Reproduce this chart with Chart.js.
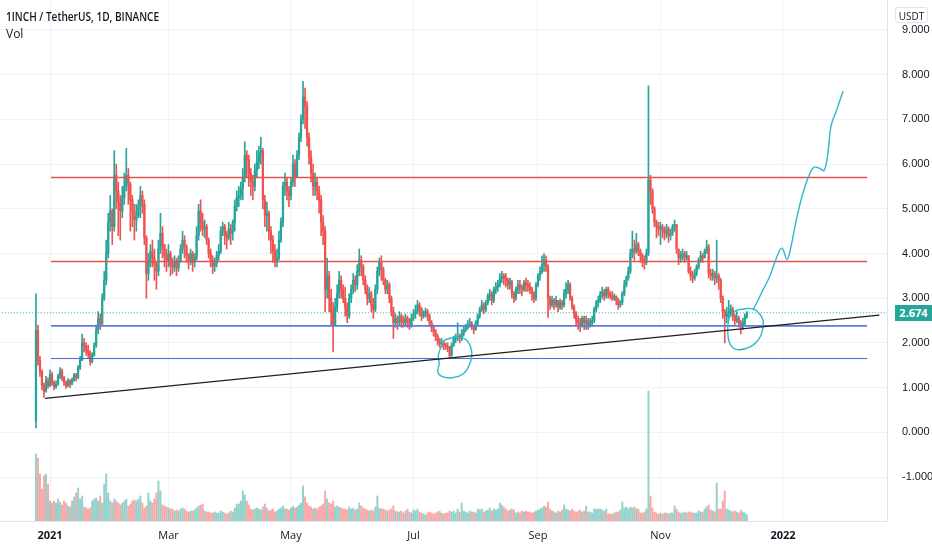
<!DOCTYPE html>
<html>
<head>
<meta charset="utf-8">
<script src="https://cdn.jsdelivr.net/npm/chart.js@4.4.0/dist/chart.umd.min.js"></script>
<style>
  body { margin: 0; background: #fff; }
  #wrap { position: relative; width: 932px; height: 550px; }
  #title, #vol, #usdt, #last { position: absolute; color: #131722; font-family: "Open Sans", "Liberation Sans", sans-serif; white-space: nowrap; }
  #title { left: 6px; top: 8px; font-size: 12px; font-weight: 600; transform-origin: left top; }
  #vol { left: 6px; top: 25px; font-size: 12px; }
  #usdt { left: 895px; top: 7px; width: 33px; height: 16px; line-height: 16px; font-size: 10px; text-align: center; border: 1px solid #e0e3eb; border-radius: 3px; box-sizing: border-box; }
  #last { left: 895px; top: 305px; width: 37px; height: 16px; line-height: 16px; font-size: 11px; font-weight: 700; text-align: center; background: #26a69a; color: #fff; }
</style>
</head>
<body>
<div id="wrap">
  <canvas id="chart"></canvas>
  <div id="title">1INCH / TetherUS, 1D, BINANCE</div>
  <div id="vol">Vol</div>
  <div id="usdt">USDT</div>
  <div id="last">2.674</div>
</div>
<script>
// ================================
// DATOS (días contados desde el 1 ene 2021, primera vela 25 dic 2020)
// ================================
const firstDay = -7;
const firstOpen = 0.25;

const closes = [
  2.28,1.61,1.35,1.05,0.92,1.15,1.05,1.30,1.10,1.02,
  1.08,1.25,1.38,1.22,1.12,1.05,1.15,1.08,1.18,1.28,
  1.22,1.45,1.62,2.00,1.92,1.85,1.78,1.58,1.72,1.95,
  2.30,2.55,2.42,3.00,3.40,4.00,4.70,4.95,4.60,5.75,
  5.40,5.15,4.95,5.25,5.50,5.75,5.55,5.20,4.95,4.75,
  4.85,5.05,5.30,5.10,4.35,3.55,3.80,4.05,3.90,3.75,3.60,
  4.10,4.45,4.20,3.95,3.85,4.00,3.75,3.70,3.82,3.68,
  3.85,4.10,4.30,4.15,3.95,3.85,4.00,3.80,3.90,4.40,
  4.95,4.70,4.55,4.60,4.30,4.00,3.85,3.72,3.78,3.95,
  4.05,4.50,4.60,4.40,4.35,4.55,4.45,4.70,5.05,5.25,
  5.30,5.45,5.70,6.20,6.10,5.80,5.60,5.50,5.85,6.05,6.25,
  6.30,5.20,4.85,4.90,4.50,4.30,4.05,3.85,3.90,4.30,
  4.70,5.50,5.60,5.40,5.30,5.60,6.00,5.70,6.20,6.60,
  7.00,7.50,7.30,6.60,6.15,5.80,5.50,5.60,5.40,5.20,
  4.70,4.50,3.20,3.50,3.00,2.70,2.40,2.80,3.10,3.40,
  3.20,3.00,2.80,2.60,3.00,3.20,3.40,3.30,3.60,3.85,3.70,
  3.40,3.20,3.00,3.10,2.85,2.75,3.20,3.60,3.80,3.65,
  3.40,3.20,3.30,3.00,2.70,2.45,2.55,2.45,2.60,2.50,
  2.45,2.55,2.50,2.40,2.55,2.65,2.70,2.85,2.75,2.60,
  2.65,2.70,2.60,2.45,2.35,2.25,2.15,2.05,1.98,2.00,
  1.95,1.92,1.90,1.72,1.95,2.10,2.12,2.15,2.10,2.20,2.30,
  2.35,2.40,2.45,2.38,2.30,2.45,2.60,2.75,2.85,2.75,
  2.90,3.05,3.10,2.95,3.20,3.25,3.30,3.45,3.50,3.45,
  3.40,3.30,3.35,3.10,3.00,3.20,3.30,3.25,3.20,3.35,
  3.30,3.25,3.20,3.10,3.00,3.30,3.50,3.60,3.75,3.85,3.70,
  3.00,2.85,2.95,2.85,2.95,2.80,2.90,2.85,3.10,3.20,
  3.30,3.00,2.80,2.65,2.50,2.45,2.40,2.55,2.45,2.50,
  2.40,2.45,2.50,2.75,2.90,2.95,3.10,3.15,3.05,3.20,
  3.10,3.05,3.00,3.05,2.95,2.85,2.90,3.10,3.30,3.45,3.60,
  4.00,4.10,4.05,4.20,4.05,3.95,3.85,3.80,4.00,5.65,
  5.40,5.00,4.70,4.60,4.55,4.60,4.50,4.45,4.55,4.40,
  4.45,4.60,4.65,4.10,3.90,3.95,4.00,3.90,3.95,3.60,
  3.50,3.45,3.55,3.70,3.85,3.95,3.90,4.05,4.15,3.55,3.50,
  3.55,3.45,3.50,3.40,3.00,2.70,2.60,2.65,2.70,2.75,
  2.60,2.50,2.55,2.45,2.35,2.45,2.60,2.674
];

const highs = [
  3.10,2.40,1.70,1.40,1.10,1.25,1.22,1.40,1.35,1.15,
  1.15,1.30,1.45,1.42,1.25,1.15,1.20,1.18,1.22,1.32,
  1.32,1.50,1.70,2.20,2.10,2.00,1.95,1.82,1.78,2.00,
  2.40,2.70,2.65,3.10,3.60,4.30,4.90,5.30,5.00,6.30,
  6.00,5.60,5.30,5.50,5.80,6.35,5.90,5.60,5.30,5.10,
  5.10,5.20,5.50,5.40,5.20,4.40,4.00,4.20,4.30,4.10,3.80,
  4.30,4.90,4.60,4.20,4.10,4.20,4.05,3.90,3.95,3.90,
  3.95,4.20,4.50,4.40,4.20,4.00,4.10,4.05,4.00,4.60,
  5.10,5.20,4.90,4.75,4.65,4.35,4.10,3.95,3.90,4.05,
  4.20,4.60,4.70,4.65,4.50,4.70,4.65,4.75,5.20,5.40,
  5.50,5.60,5.90,6.50,6.30,6.20,5.90,5.75,6.00,6.30,6.40,
  6.60,6.35,5.30,5.15,4.95,4.60,4.40,4.20,4.10,4.50,
  4.80,5.60,5.80,5.70,5.50,5.70,6.20,6.10,6.30,6.70,
  7.10,7.85,7.70,7.40,6.70,6.30,6.00,5.80,5.70,5.50,
  5.30,4.85,4.60,3.90,3.60,3.20,2.90,3.00,3.30,3.60,
  3.50,3.30,3.25,2.90,3.10,3.30,3.55,3.50,3.75,4.10,3.95,
  3.75,3.50,3.30,3.25,3.15,3.00,3.30,3.70,3.90,3.95,
  3.70,3.45,3.40,3.35,3.05,2.80,2.65,2.60,2.70,2.65,
  2.60,2.65,2.60,2.55,2.65,2.75,2.85,2.95,2.90,2.80,
  2.72,2.78,2.75,2.65,2.50,2.40,2.30,2.20,2.10,2.10,
  2.05,2.00,2.00,1.92,2.00,2.15,2.20,2.45,2.20,2.30,2.35,
  2.42,2.50,2.55,2.48,2.40,2.50,2.65,2.80,2.95,2.90,
  2.95,3.10,3.20,3.15,3.25,3.35,3.40,3.55,3.60,3.55,
  3.55,3.45,3.45,3.40,3.15,3.25,3.40,3.40,3.30,3.40,
  3.45,3.40,3.35,3.25,3.15,3.35,3.55,3.70,3.95,4.00,3.95,
  3.75,3.05,3.05,3.00,3.05,2.95,2.98,2.95,3.20,3.35,
  3.40,3.35,3.05,2.85,2.70,2.60,2.55,2.60,2.60,2.60,
  2.55,2.55,2.60,2.80,2.95,3.05,3.15,3.25,3.20,3.25,
  3.25,3.15,3.15,3.10,3.05,3.00,2.95,3.15,3.40,3.50,3.70,
  4.10,4.50,4.30,4.45,4.25,4.10,4.00,3.95,4.10,7.75,
  5.75,5.45,5.05,4.75,4.70,4.70,4.65,4.60,4.65,4.60,
  4.55,4.65,4.75,4.65,4.10,4.05,4.10,4.05,4.05,3.95,
  3.70,3.60,3.65,3.75,3.90,4.05,4.00,4.10,4.30,4.20,3.65,
  3.65,3.60,4.30,3.55,3.45,3.05,2.75,2.80,2.95,2.85,
  2.80,2.65,2.70,2.60,2.50,2.55,2.65,2.70
];

const lows = [
  0.10,1.50,1.25,0.95,0.78,0.90,0.98,1.02,1.05,0.95,
  0.98,1.05,1.20,1.15,1.05,0.98,1.02,1.00,1.06,1.14,
  1.15,1.20,1.40,1.60,1.80,1.72,1.66,1.50,1.55,1.70,
  1.90,2.20,2.30,2.40,2.95,3.30,3.90,4.50,4.20,4.50,
  5.00,4.40,4.30,4.80,5.10,5.40,5.10,4.50,4.60,4.30,
  4.50,4.80,4.80,4.90,4.20,3.00,3.40,3.70,3.70,3.40,3.20,
  3.50,4.00,3.90,3.70,3.60,3.70,3.50,3.55,3.60,3.50,
  3.60,3.80,4.00,3.90,3.80,3.65,3.75,3.60,3.70,3.85,
  4.30,4.50,4.40,4.35,4.20,3.90,3.70,3.55,3.60,3.70,
  3.85,4.00,4.40,4.20,4.10,4.30,4.20,4.30,4.50,4.95,
  5.05,5.20,5.20,5.60,5.70,5.50,5.30,5.20,5.40,5.70,5.90,
  6.00,5.00,4.60,4.50,4.30,4.00,3.80,3.70,3.70,3.85,
  4.25,4.60,5.30,5.20,5.05,5.20,5.50,5.50,5.70,6.10,
  6.50,6.90,6.80,6.40,6.00,5.60,5.30,5.30,5.20,4.90,
  4.40,4.20,2.70,3.00,2.70,2.40,1.80,2.40,2.70,3.00,
  3.00,2.90,2.60,2.45,2.55,2.90,3.10,3.15,3.20,3.50,3.50,
  3.30,3.10,2.85,2.90,2.70,2.55,2.70,3.10,3.50,3.40,
  3.30,3.10,3.10,2.90,2.60,2.10,2.35,2.30,2.40,2.35,
  2.35,2.40,2.35,2.30,2.35,2.50,2.55,2.65,2.60,2.50,
  2.55,2.58,2.50,2.40,2.25,2.15,2.05,1.95,1.90,1.90,
  1.85,1.85,1.80,1.65,1.70,1.92,2.00,2.05,2.00,2.05,2.15,
  2.25,2.30,2.35,2.30,2.20,2.28,2.40,2.55,2.70,2.65,
  2.70,2.85,2.95,2.85,2.90,3.10,3.15,3.25,3.35,3.30,
  3.25,3.20,3.20,3.00,2.90,2.95,3.10,3.10,3.05,3.15,
  3.15,3.15,3.10,2.95,2.90,2.95,3.25,3.40,3.55,3.60,3.60,
  2.57,2.75,2.80,2.75,2.80,2.70,2.75,2.75,2.80,3.00,
  3.10,2.95,2.75,2.55,2.40,2.30,2.25,2.35,2.30,2.30,
  2.30,2.35,2.38,2.45,2.70,2.80,2.90,3.00,2.95,3.00,
  3.00,2.98,2.95,2.95,2.85,2.75,2.80,2.85,3.05,3.25,3.40,
  3.55,3.90,3.85,4.00,3.95,3.80,3.70,3.65,3.75,3.95,
  5.10,4.90,4.60,4.35,4.40,4.20,4.35,4.30,4.35,4.25,
  4.30,4.40,4.50,4.00,3.75,3.80,3.85,3.80,3.85,3.55,
  3.40,3.35,3.40,3.50,3.65,3.80,3.80,3.90,4.00,3.45,3.40,
  3.40,3.30,3.35,3.20,2.90,2.55,2.00,2.45,2.55,2.60,
  2.50,2.40,2.45,2.35,2.20,2.30,2.40,2.55
];

// volumen en unidades relativas
const volumes = [
  67,63,47,32,45,47,37,20,18,20,
  18,22,19,16,20,18,15,14,20,24,
  28,33,22,25,14,13,12,13,20,22,
  23,20,25,18,37,47,28,20,18,22,
  20,18,16,18,20,22,15,17,20,21,
  20,22,25,18,13,15,28,20,18,22,28,
  40,30,16,15,14,13,12,12,10,11,
  10,12,13,12,10,9,10,10,11,13,
  15,16,17,10,9,9,8,8,9,8,
  8,10,9,8,7,8,10,9,13,17,
  17,20,30,26,20,16,12,11,12,13,12,
  11,14,17,13,10,11,12,9,10,12,
  13,15,12,12,11,13,15,13,14,16,
  18,35,24,18,15,14,12,13,12,14,
  15,17,30,22,18,17,20,14,15,14,
  13,12,12,11,14,12,13,11,12,18,15,
  13,12,11,10,11,10,14,25,13,12,
  12,11,10,11,12,15,10,9,9,10,
  8,10,12,9,8,11,10,12,9,8,
  7,6,8,9,8,7,8,9,10,8,
  7,8,8,10,9,10,8,12,9,18,10,
  9,8,10,9,9,8,12,11,12,9,
  10,11,13,10,12,11,12,18,16,14,
  12,10,11,12,11,8,9,8,10,9,
  10,9,9,8,9,10,11,12,13,15,14,
  19,12,10,9,8,10,9,11,16,12,
  11,10,12,10,9,10,11,9,10,15,
  9,9,8,12,12,12,12,11,10,12,
  7,7,7,8,9,9,11,19,13,14,12,
  14,13,14,12,12,8,8,9,12,130,
  25,13,9,8,7,8,7,8,8,7,
  8,8,15,12,9,8,8,9,8,9,
  9,8,8,8,10,9,9,12,14,16,11,
  10,9,38,12,12,20,30,12,11,10,
  9,10,9,8,11,9,8,6
];

const monthTicks  = [0, 59, 120, 181, 243, 304, 365];
const monthLabels = ["2021", "Mar", "May", "Jul", "Sep", "Nov", "2022"];
const priceTicks  = [-1, 0, 1, 2, 3, 4, 5, 6, 7, 8, 9];

const resistances = [5.70, 3.82];
const supports    = [2.38, 1.65];
const levelStart  = 0.5;
const levelEnd    = 406.9;
const trendLine   = [{ x: -2.5, y: 0.76 }, { x: 413, y: 2.62 }];
const lastPrice   = 2.674;

// dibujos a mano (círculos y proyección)
const julyCircle = [
  { x: 196.7, y: 2.07 }, { x: 202.5, y: 2.13 }, { x: 207.5, y: 2.06 }, { x: 210.0, y: 1.80 },
  { x: 209.1, y: 1.54 }, { x: 205.8, y: 1.31 }, { x: 200.0, y: 1.22 }, { x: 195.1, y: 1.25 },
  { x: 193.1, y: 1.35 }, { x: 193.8, y: 1.54 }, { x: 193.4, y: 1.72 }, { x: 195.1, y: 1.95 },
  { x: 196.7, y: 2.07 }
];
const decCircle = [
  { x: 343.6, y: 2.75 }, { x: 350.2, y: 2.76 }, { x: 354.4, y: 2.58 }, { x: 355.2, y: 2.39 },
  { x: 353.2, y: 2.10 }, { x: 348.6, y: 1.91 }, { x: 342.0, y: 1.85 }, { x: 338.6, y: 1.98 },
  { x: 337.5, y: 2.28 }, { x: 338.3, y: 2.57 }, { x: 341.2, y: 2.71 }, { x: 343.6, y: 2.75 }
];
const projection = [
  { x: 350.1, y: 2.73 }, { x: 355.0, y: 3.18 }, { x: 358.6, y: 3.51 }, { x: 362.1, y: 3.94 },
  { x: 364.5, y: 4.12 }, { x: 367.0, y: 3.87 }, { x: 369.0, y: 4.16 }, { x: 371.5, y: 4.72 },
  { x: 374.5, y: 5.28 }, { x: 378.0, y: 5.75 }, { x: 380.4, y: 5.93 }, { x: 383.0, y: 5.91 },
  { x: 385.5, y: 5.86 }, { x: 387.5, y: 6.29 }, { x: 388.9, y: 6.85 }, { x: 391.9, y: 7.23 },
  { x: 394.9, y: 7.63 }
];

// ================================
// VELAS
// ================================
const GREEN = "#26a69a";
const RED = "#ef5350";
const days = closes.map((c, i) => firstDay + i);
const opens = closes.map((c, i) => i === 0 ? firstOpen : closes[i - 1]); // apertura = cierre anterior
const isUp = i => closes[i] >= opens[i];
const candleColor = ctx => isUp(ctx.dataIndex) ? GREEN : RED;

function levelLine(value, color, width) {
  return {
    type: "line",
    data: [{ x: levelStart, y: value }, { x: levelEnd, y: value }],
    borderColor: color, borderWidth: width, pointRadius: 0, order: 1
  };
}
function drawing(points, color, width, tension) {
  return {
    type: "line", data: points, borderColor: color, borderWidth: width,
    pointRadius: 0, tension: tension, order: 0
  };
}

const noPad = s => { s.paddingTop = 0; s.paddingBottom = 0; s.paddingLeft = 0; s.paddingRight = 0; };

new Chart(document.getElementById("chart"), {
  type: "bar",
  data: {
    datasets: [
      {
        label: "vol", yAxisID: "yVol",
        data: days.map((d, i) => ({ x: d, y: volumes[i] })),
        backgroundColor: ctx => isUp(ctx.dataIndex) ? "rgba(38,166,154,0.5)" : "rgba(239,83,80,0.5)",
        barThickness: 1.3, grouped: false, order: 5
      },
      {
        label: "wick",
        data: days.map((d, i) => ({ x: d, y: [lows[i], highs[i]] })),
        backgroundColor: candleColor, barThickness: 1, grouped: false, order: 4
      },
      {
        label: "body",
        data: days.map((d, i) => ({ x: d, y: [opens[i], closes[i]] })),
        backgroundColor: candleColor, barThickness: 1.6, minBarLength: 1, grouped: false, order: 3
      },
      {
        type: "line",
        data: [{ x: -30, y: lastPrice }, { x: 420, y: lastPrice }],
        borderColor: GREEN, borderWidth: 1, borderDash: [1, 2], pointRadius: 0, order: 2
      },
      levelLine(resistances[0], "#e0534f", 1.4),
      levelLine(resistances[1], "#e0534f", 1.4),
      levelLine(supports[0], "#5b7be3", 1.6),
      levelLine(supports[1], "#3f66e0", 1),
      drawing(trendLine, "#1e1e1e", 1.3, 0),
      drawing(julyCircle, "#2bb8cc", 1.4, 0.4),
      drawing(decCircle, "#2bb8cc", 1.4, 0.4),
      drawing(projection, "#2bb8cc", 1.4, 0.4)
    ]
  },
  options: {
    responsive: true,
    maintainAspectRatio: false,
    animation: false,
    layout: { padding: 0 },
    plugins: { legend: { display: false }, tooltip: { enabled: false } },
    scales: {
      x: {
        type: "linear", min: -24.9, max: 416.8, offset: false,
        grid: { color: "#f0f3fa", offset: false, drawTicks: false },
        border: { color: "#e0e3eb" },
        ticks: {
          padding: 8, color: "#131722", maxRotation: 0, autoSkip: false,
          font: ctx => ({ family: "'Open Sans', 'Liberation Sans', sans-serif", size: 11,
            weight: ctx.tick && (ctx.tick.value === 0 || ctx.tick.value === 365) ? "bold" : "normal" }),
          callback: v => monthLabels[monthTicks.indexOf(v)]
        },
        afterBuildTicks: s => { s.ticks = monthTicks.map(v => ({ value: v })); },
        afterFit: s => { s.height = 29; noPad(s); }
      },
      y: {
        position: "right", min: -1.984, max: 9.671,
        grid: { color: "#f0f3fa", drawTicks: false },
        border: { color: "#e0e3eb" },
        ticks: {
          padding: 15, color: "#131722",
          font: { family: "'Liberation Sans', sans-serif", size: 11 },
          callback: v => v.toFixed(3)
        },
        afterBuildTicks: s => { s.ticks = priceTicks.map(v => ({ value: v })); },
        afterFit: s => { s.width = 45; noPad(s); }
      },
      yVol: { display: false, min: 0, max: 521 }
    }
  }
});

// ajustar el ancho del título
const title = document.getElementById("title");
title.style.transform = "scaleX(" + (153 / title.offsetWidth) + ")";
</script>
</body>
</html>
